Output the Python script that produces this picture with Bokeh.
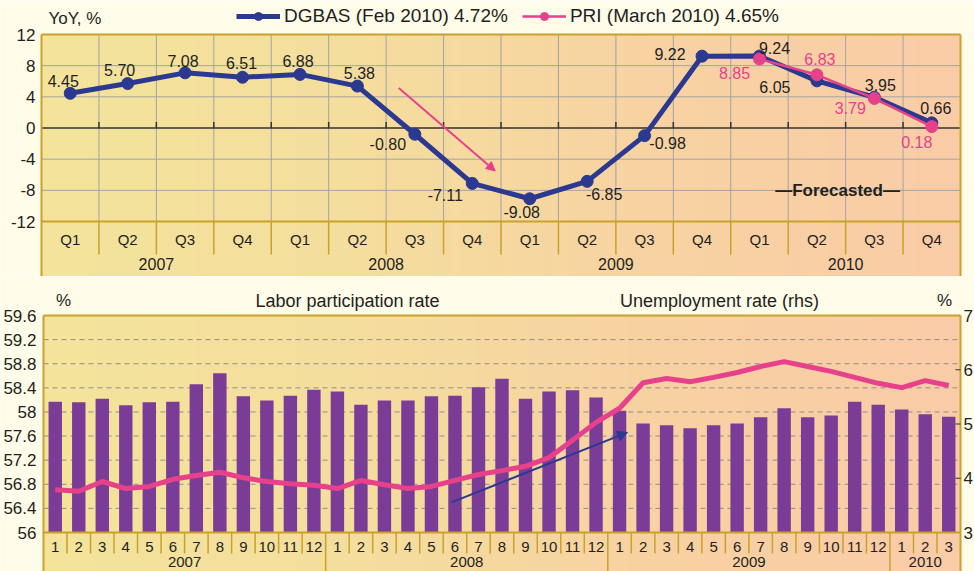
import numpy as np
from bokeh.plotting import figure
from bokeh.layouts import column
from bokeh.models import (ColumnDataSource, Range1d, LabelSet, Legend, LegendItem, Arrow, NormalHead)
from bokeh.embed import file_html
from bokeh.resources import INLINE
from bokeh.core.properties import value

# ---------------- data ----------------
quarter_labels = ["Q1", "Q2", "Q3", "Q4"] * 4
quarter_years = ["2007", "2008", "2009", "2010"]
dgbas = [4.45, 5.70, 7.08, 6.51, 6.88, 5.38, -0.80, -7.11,
         -9.08, -6.85, -0.98, 9.22, 9.24, 6.05, 3.95, 0.66]
pri_quarter_index = [12, 13, 14, 15]
pri = [8.85, 6.83, 3.79, 0.18]
yoy_ticks = [-12, -8, -4, 0, 4, 8, 12]

month_labels = [str(m) for m in range(1, 13)] * 3 + ["1", "2", "3"]
month_years = ["2007", "2008", "2009", "2010"]
labor_rate = [58.17, 58.16, 58.22, 58.11, 58.16, 58.17, 58.46, 58.64, 58.26, 58.19, 58.27, 58.37,
              58.34, 58.12, 58.19, 58.19, 58.26, 58.27, 58.41, 58.55, 58.22, 58.34, 58.36, 58.24,
              58.02, 57.81, 57.78, 57.73, 57.78, 57.81, 57.91, 58.06, 57.91, 57.94, 58.17, 58.12,
              58.04, 57.96, 57.92]
unemp_rate = [3.79, 3.76, 3.94, 3.81, 3.85, 3.98, 4.05, 4.11, 4.01, 3.94, 3.90, 3.87,
              3.81, 3.96, 3.88, 3.81, 3.85, 3.96, 4.07, 4.14, 4.22, 4.38, 4.70, 5.03,
              5.29, 5.76, 5.84, 5.78, 5.86, 5.95, 6.06, 6.15, 6.06, 5.97, 5.86, 5.75,
              5.67, 5.80, 5.71]
labor_ticks = [56, 56.4, 56.8, 57.2, 57.6, 58, 58.4, 58.8, 59.2, 59.6]
unemp_ticks = [3, 4, 5, 6, 7]

# label offsets (screen px, +y = up) -- styling only
dgbas_dx = [-7, -8, -2, -1, -2, 2, -27, -27, -8, 17, 23, -32, 15, -42, 6, 4]
dgbas_dy = [12, 14, 12, 14, 13, 13, -10, -12, -13, -13, -7, 2, 8, -6, 12, 15]
pri_dx = [-25, 3, -24, -15]
pri_dy = [-14, 16, -10, -15]

# ---------------- style ----------------
NAVY = "#2B3990"
PINK = "#E8418B"
PURPLE = "#7B3C97"
GOLD = "#C8A22A"
GRAY = "#A3A3A3"
DASH = "#8E8E8E"
TXT = "#231F20"
CREAM = "#FFFCEA"
FONT = "Liberation Sans"
W = 974


def gradient(stops, n=400):
    pos = np.linspace(0, 1, n)
    sp = np.linspace(0, 1, len(stops))
    rgb = np.array([[int(c[i:i + 2], 16) for i in (1, 3, 5)] for c in stops], dtype=float)
    img = np.empty((1, n), dtype=np.uint32)
    v = img.view(dtype=np.uint8).reshape((1, n, 4))
    for k in range(3):
        v[0, :, k] = np.interp(pos, sp, rgb[:, k]).astype(np.uint8)
    v[0, :, 3] = 255
    return img


def make_fig(height, xr, yr):
    p = figure(width=W, height=height, x_range=xr, y_range=yr, output_backend="svg",
               toolbar_location=None, x_axis_location=None, y_axis_location=None,
               min_border=0, border_fill_color=CREAM, background_fill_color=CREAM,
               outline_line_color=None)
    p.grid.visible = False
    return p


# ================= top chart =================
# plot area: px 41..960 horizontally; y=12 at px 34, y=-12 at px 221; figure 276 px high
nq = len(dgbas)
sx1 = (960 - 41) / nq
sy1 = (221 - 34) / 24.0
X1 = Range1d(-41 / sx1, nq + (W - 960) / sx1)
Y1 = Range1d(-12 - (276 - 221) / sy1, 12 + 34 / sy1)
p1 = make_fig(276, X1, Y1)

ymin, ymax = yoy_ticks[0], yoy_ticks[-1]
p1.image_rgba(image=[gradient(["#F3E49B", "#F5DE9E", "#F8D3A2", "#FACCA7"])],
              x=0, y=Y1.start, dw=nq, dh=ymax - Y1.start, level="image")

vx = list(range(1, nq))
p1.segment(x0=vx, y0=[ymin] * len(vx), x1=vx, y1=[ymax] * len(vx), line_color=GRAY, line_width=1)
hy = [t for t in yoy_ticks if t not in (0, ymin, ymax)]
p1.segment(x0=[0] * len(hy), y0=hy, x1=[nq] * len(hy), y1=hy, line_color=GRAY, line_width=1)
p1.segment(x0=[0], y0=[0], x1=[nq], y1=[0], line_color="#333333", line_width=1.5)
p1.segment(x0=vx, y0=[0] * len(vx), x1=vx, y1=[6 / sy1] * len(vx), line_color="#333333", line_width=1.5)
p1.segment(x0=[0], y0=[ymin], x1=[nq], y1=[ymin], line_color=GOLD, line_width=2)
p1.segment(x0=vx, y0=[ymin] * len(vx), x1=vx, y1=[ymin - 33 / sy1] * len(vx), line_color=GOLD, line_width=1.5)
# frame border (left, top, right)
p1.segment(x0=[0, 0, nq], y0=[Y1.start, ymax, ymax], x1=[0, nq, nq], y1=[ymax, ymax, Y1.start],
           line_color=GOLD, line_width=2)

# y tick labels
p1.text(x=[0] * len(yoy_ticks), y=yoy_ticks, text=[str(t) for t in yoy_ticks], x_offset=-6,
        text_align="right", text_baseline="middle", text_font=value(FONT), text_font_size="17px",
        text_color=TXT)

qx = [i + 0.5 for i in range(nq)]
p1.text(x=qx, y=[ymin - 18 / sy1] * nq, text=quarter_labels, text_align="center", text_baseline="middle",
        text_font=value(FONT), text_font_size="15px", text_color=TXT)
yx = [4 * i + 2 for i in range(len(quarter_years))]
p1.text(x=yx, y=[ymin - 42 / sy1] * len(yx), text=quarter_years, text_align="center",
        text_baseline="middle", text_font=value(FONT), text_font_size="16px", text_color=TXT)

src_d = ColumnDataSource(dict(x=qx, y=dgbas, t=["%.2f" % v for v in dgbas], dx=dgbas_dx, dy=dgbas_dy))
px = [i + 0.5 for i in pri_quarter_index]
src_p = ColumnDataSource(dict(x=px, y=pri, t=["%.2f" % v for v in pri], dx=pri_dx, dy=pri_dy))

l1 = p1.line("x", "y", source=src_d, line_color=NAVY, line_width=5, line_join="round")
s1 = p1.scatter("x", "y", source=src_d, size=12, fill_color=NAVY, line_color=NAVY)
l2 = p1.line("x", "y", source=src_p, line_color=PINK, line_width=2.5, line_join="round")
s2 = p1.scatter("x", "y", source=src_p, size=12, fill_color=PINK, line_color=PINK)

p1.add_layout(LabelSet(x="x", y="y", text="t", source=src_d, x_offset="dx", y_offset="dy",
                       text_align="center", text_baseline="middle", text_font=value(FONT),
                       text_font_size="16px", text_color=TXT))
p1.add_layout(LabelSet(x="x", y="y", text="t", source=src_p, x_offset="dx", y_offset="dy",
                       text_align="center", text_baseline="middle", text_font=value(FONT),
                       text_font_size="16px", text_color=PINK))

p1.add_layout(Arrow(end=NormalHead(size=9, fill_color=PINK, line_color=PINK),
                    x_start=6.22, y_start=5.13, x_end=7.90, y_end=-5.52,
                    line_color=PINK, line_width=2))
p1.text(x=[13.86], y=[-7.96], text=["\u2014Forecasted\u2014"], text_align="center",
        text_baseline="middle", text_font=value(FONT), text_font_size="17px",
        text_font_style="bold", text_color=TXT)
p1.text(x=[0.12], y=[14.05], text=["YoY, %"], text_align="left", text_baseline="middle",
        text_font=value(FONT), text_font_size="17px", text_color=TXT)

legend = Legend(items=[LegendItem(label="DGBAS (Feb 2010) 4.72%", renderers=[l1, s1]),
                       LegendItem(label="PRI (March 2010) 4.65%", renderers=[l2, s2])],
                location=(236, 249), orientation="horizontal", glyph_width=44, glyph_height=20,
                label_height=20, label_standoff=4, spacing=14, padding=0, margin=0,
                border_line_alpha=0, background_fill_alpha=0,
                label_text_font=FONT, label_text_font_size="19px", label_text_color=TXT)
p1.add_layout(legend)

# ================= bottom chart =================
# plot area: px 43..960; 59.6 at px 39 (page 315), 56 at px 256 (page 532); figure 295 px high
nm = len(labor_rate)
H2 = 295
lo, hi = labor_ticks[0], labor_ticks[-1]
rlo, rhi = unemp_ticks[0], unemp_ticks[-1]
sx2 = (960 - 43) / nm
sy2 = 217 / (hi - lo)
sr2 = 217 / (rhi - rlo)
X2 = Range1d(-43 / sx2, nm + (W - 960) / sx2)
Y2 = Range1d(lo - (H2 - 256) / sy2, hi + 39 / sy2)
p2 = make_fig(H2, X2, Y2)
p2.extra_y_ranges = {"rhs": Range1d(rlo - (H2 - 256) / sr2, rhi + 39 / sr2)}

p2.image_rgba(image=[gradient(["#F3E49B", "#F5DE9E", "#F8D2A2", "#FACBA8"])],
              x=0, y=Y2.start, dw=nm, dh=hi - Y2.start, level="image")

gy = labor_ticks[1:-1]
p2.segment(x0=[0] * len(gy), y0=gy, x1=[nm] * len(gy), y1=gy, line_color=DASH,
           line_width=1, line_dash="5 4")

mx = [i + 0.5 for i in range(nm)]
p2.vbar(x=mx, top=labor_rate, bottom=lo, width=0.57, fill_color=PURPLE, line_color=None)
p2.line(x=mx, y=unemp_rate, y_range_name="rhs", line_color=PINK, line_width=5, line_join="round")

p2.segment(x0=[0], y0=[lo], x1=[nm], y1=[lo], line_color=GOLD, line_width=2)
year_bounds = [12, 24, 36]
msep = [i for i in range(1, nm) if i not in year_bounds]
p2.segment(x0=msep, y0=[lo] * len(msep), x1=msep, y1=[lo - 21 / sy2] * len(msep),
           line_color=GOLD, line_width=1.5)
p2.segment(x0=year_bounds, y0=[lo] * 3, x1=year_bounds, y1=[Y2.start] * 3, line_color=GOLD, line_width=1.5)
p2.segment(x0=[0, 0, nm], y0=[Y2.start, hi, hi], x1=[0, nm, nm], y1=[hi, hi, Y2.start],
           line_color=GOLD, line_width=2)

p2.text(x=mx, y=[lo - 14 / sy2] * nm, text=month_labels, text_align="center", text_baseline="middle",
        text_font=value(FONT), text_font_size="15px", text_color=TXT)
myx = [6, 18, 30, 37.5]
p2.text(x=myx, y=[lo - 29 / sy2] * 4, text=month_years, text_align="center", text_baseline="middle",
        text_font=value(FONT), text_font_size="15px", text_color=TXT)

rt = unemp_ticks[1:-1]
p2.segment(x0=[nm - 5 / sx2] * len(rt), y0=rt, x1=[nm] * len(rt), y1=rt, y_range_name="rhs",
           line_color="#333333", line_width=1)

p2.text(x=[0] * len(labor_ticks), y=labor_ticks, text=[("%g" % v) for v in labor_ticks], x_offset=-7,
        text_align="right", text_baseline="middle", text_font=value(FONT), text_font_size="17px",
        text_color=TXT)
p2.text(x=[nm] * len(unemp_ticks), y=unemp_ticks, text=[str(v) for v in unemp_ticks], x_offset=3,
        y_range_name="rhs", text_align="left", text_baseline="middle", text_font=value(FONT),
        text_font_size="17px", text_color=TXT)

p2.add_layout(Arrow(end=NormalHead(size=10, fill_color=NAVY, line_color=NAVY),
                    x_start=17.35, y_start=56.50, x_end=24.84, y_end=57.66,
                    line_color=NAVY, line_width=2))

ty = hi + 15 / sy2
p2.text(x=[12.93, 28.75], y=[ty, ty], text=["Labor participation rate", "Unemployment rate (rhs)"],
        text_align="center", text_baseline="middle", text_font=value(FONT), text_font_size="18px",
        text_color=TXT)
p2.text(x=[0.85, 38.32], y=[ty, ty], text=["%", "%"], text_align="center", text_baseline="middle",
        text_font=value(FONT), text_font_size="17px", text_color=TXT)

layout = column(p1, p2, spacing=0)
open("out.html", "w").write(file_html(layout, INLINE))
